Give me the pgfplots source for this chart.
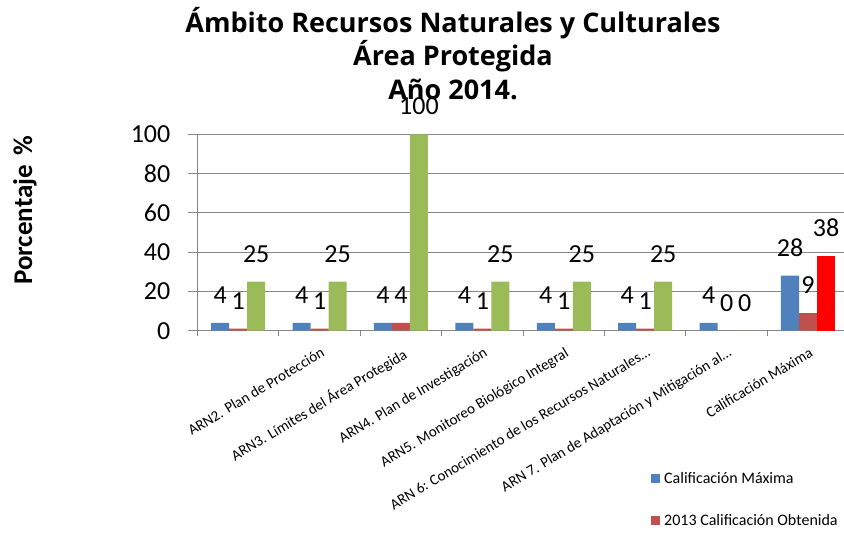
\documentclass[border=0pt]{standalone}
\usepackage{pgfplots}
\pgfplotsset{compat=1.18}
\usepackage{fontspec}
\setmainfont{Carlito}
\newfontfamily\titlefont{Open Sans}

\definecolor{serblue}{HTML}{4F81BD}
\definecolor{serred}{HTML}{C0504D}
\definecolor{sergreen}{HTML}{9BBB59}
\definecolor{hotred}{HTML}{FF0000}
\definecolor{gridgray}{HTML}{878787}

\begin{document}
\begin{tikzpicture}
\begin{axis}[
  at={(0pt,0pt)}, anchor=south west,
  scale only axis, width=651.2pt, height=196.4pt,
  xmin=0.5, xmax=8.5, ymin=0, ymax=100,
  axis lines*=left,
  axis line style={-, draw=gridgray, line width=1pt},
  tick align=outside,
  major tick length=9pt, minor tick length=5pt,
  ytick={0,20,...,100},
  ytick style={draw=gridgray, line width=1pt},
  ymajorgrids, major grid style={draw=gridgray, line width=1pt},
  xtick={1,...,8},
  major x tick style={draw=none},
  minor xtick={0.5,1.5,...,8.5},
  minor x tick style={draw=gridgray, line width=1pt},
  xticklabels={{},
    ARN2. Plan de Protección,
    ARN3. Límites del Área Protegida,
    ARN4. Plan de Investigación,
    ARN5. Monitoreo Biológico Integral,
    ARN 6: Conocimiento de los Recursos Naturales…,
    ARN 7. Plan de Adaptación y Mitigación al…,
    Calificación Máxima},
  xticklabel style={font=\fontsize{15}{18}\selectfont, rotate=31,
    anchor=north east, inner sep=0pt, xshift=-3pt, yshift=-6pt},
  yticklabel style={font=\fontsize{26}{26}\selectfont, anchor=east,
    inner sep=0pt, xshift=-18pt},
  /pgf/number format/assume math mode=true,
  every node near coord/.append style={font=\fontsize{26}{26}\selectfont,
    anchor=south, inner sep=0pt, yshift=19pt, text=black},
  clip=false,
  legend style={at={(0.6964,-0.72)}, anchor=north west, draw=none,
    fill=none, inner sep=0pt, row sep=29pt,
    font=\fontsize{16}{19}\selectfont,
    nodes={inner sep=0pt},
    /tikz/every odd column/.append style={column sep=4pt}},
  legend cell align=left,
  legend image code/.code={\path[#1] (0pt,-4.5pt) rectangle (9pt,4.5pt);},
]
\addplot[ybar, bar width=18pt, bar shift=-18pt, fill=serblue, draw=none,
  nodes near coords,
  every node near coord/.append style={xshift=-18pt}] coordinates {
  (1,4)(2,4)(3,4)(4,4)(5,4)(6,4)(7,4)(8,28)};
\addlegendentry{Calificación Máxima}
\addplot[ybar, bar width=18pt, bar shift=0pt, fill=serred, draw=none,
  nodes near coords] coordinates {
  (1,1)(2,1)(3,4)(4,1)(5,1)(6,1)(7,0)(8,9)};
\addlegendentry{2013 Calificación Obtenida}
\addplot[ybar, bar width=18pt, bar shift=18pt, fill=sergreen, draw=none,
  nodes near coords,
  every node near coord/.append style={xshift=18pt}] coordinates {
  (1,25)(2,25)(3,100)(4,25)(5,25)(6,25)(7,0)};
\addplot[ybar, bar width=18pt, bar shift=18pt, fill=hotred, draw=none,
  nodes near coords,
  every node near coord/.append style={xshift=18pt}] coordinates {
  (8,38)};
\end{axis}
% title
\node[anchor=base, font=\fontsize{27}{27}\selectfont\titlefont\bfseries]
  at (255.5pt,297.7pt) {Ámbito Recursos Naturales y Culturales};
\node[anchor=base, font=\fontsize{27}{27}\selectfont\titlefont\bfseries]
  at (255.5pt,264.7pt) {Área Protegida};
\node[anchor=base, font=\fontsize{27}{27}\selectfont\titlefont\bfseries]
  at (255.5pt,230.7pt) {Año 2014.};
% y label
\node[rotate=90, font=\fontsize{27}{27}\selectfont\bfseries]
  at (-172.5pt,120.7pt) {Porcentaje\hspace{10pt}\%};
\pgfresetboundingbox
\useasboundingbox (-197.5pt,-207.3pt) rectangle (646.5pt,330.7pt);
\end{tikzpicture}
\end{document}
